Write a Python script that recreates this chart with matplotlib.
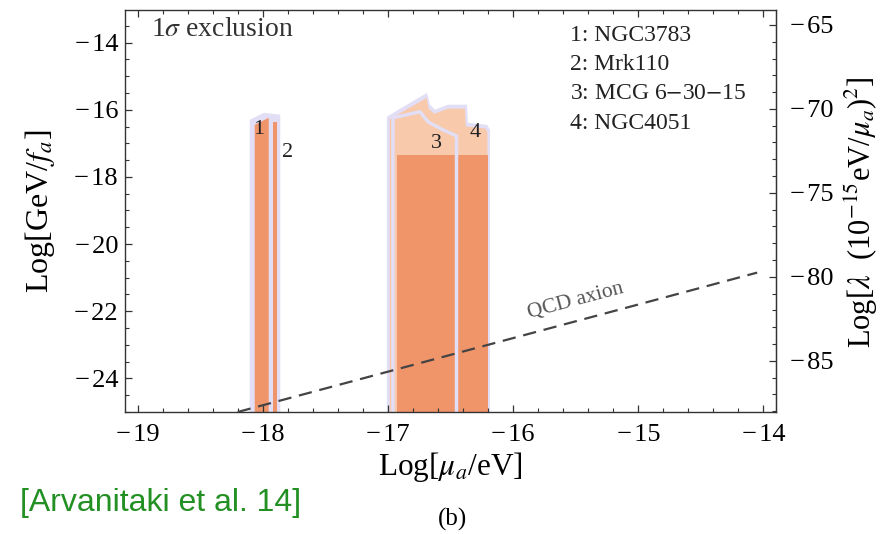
import matplotlib.pyplot as plt
from matplotlib.ticker import MultipleLocator, FixedLocator, FuncFormatter

plt.rcParams['font.family'] = ['Liberation Serif', 'DejaVu Serif']
plt.rcParams['mathtext.fontset'] = 'stix'

lav = '#e2def5'
peach = '#f8c9ab'
orange = '#f0946a'

# NGC3783 (1) and Mrk110 (2)
bar12_outer_x = [-18.104, -18.104, -17.99, -17.86, -17.86]
bar12_outer_y = [-25, -16.30, -16.09, -16.15, -25]
bar1_x = [-18.064, -18.064, -17.952, -17.952]
bar1_y = [-25, -16.45, -16.24, -25]
bar2_x = [-17.92, -17.92, -17.888, -17.888]
bar2_y = [-25, -16.36, -16.36, -25]

# MCG 6-30-15 (3) and NGC4051 (4)
grp_outer_x = [-17.008, -17.008, -16.944, -16.688, -16.664, -16.624, -16.52, -16.368, -16.36, -16.208, -16.184, -16.184]
grp_outer_y = [-25, -16.21, -16.06, -15.50, -15.85, -16.0, -15.85, -15.85, -16.39, -16.45, -16.6, -25]
peach_x = [-16.985, -16.985, -16.93, -16.69, -16.675, -16.63, -16.52, -16.385, -16.378, -16.22, -16.205, -16.205]
peach_y = [-25, -16.28, -16.16, -15.65, -15.97, -16.12, -15.97, -15.97, -16.5, -16.56, -16.68, -25]
r3_x = [-16.96, -16.96, -16.744, -16.68, -16.56, -16.452, -16.452]
r3_y = [-25, -16.24, -16.06, -16.36, -16.60, -16.78, -25]
core_x = [-16.93, -16.93, -16.2, -16.2]
core_y = [-25, -17.34, -17.34, -25]

qcd_x = [-18.2, -14.05]
qcd_y = [-25.0, -20.85]

sources = ['1: NGC3783', '2: Mrk110', '3: MCG 6$-$30$-$15', '4: NGC4051']
source_y = [-13.8, -14.64, -15.52, -16.42]
num_labels = ['1', '2', '3', '4']
num_x = [-18.03, -17.80, -16.61, -16.30]
num_y = [-16.6, -17.28, -17.01, -16.69]
right_ticks = [-85, -80, -75, -70, -65]


def fmt(v, pos):
    v = int(round(v))
    return ('\u2212\u200a%d' % -v) if v < 0 else '%d' % v


fig = plt.figure(figsize=(8.95, 5.34), dpi=100)
ax = fig.add_axes([0.1397, 0.2285, 0.867 - 0.1397, 0.9813 - 0.2285])

ax.fill(bar12_outer_x, bar12_outer_y, color=lav, lw=0)
ax.fill(bar1_x, bar1_y, color=orange, lw=0)
ax.fill(bar2_x, bar2_y, color=orange, lw=0)

ax.fill(grp_outer_x, grp_outer_y, color=lav, lw=0)
ax.fill(peach_x, peach_y, color=peach, lw=0)
ax.fill(core_x, core_y, color=orange, lw=0)
ax.plot(r3_x, r3_y, color=lav, lw=2.5, solid_joinstyle='round')

ax.plot(qcd_x, qcd_y, color='#444444', lw=1.6, dashes=(6, 3.5))
ax.text(-15.5, -21.69, 'QCD axion', rotation=15, ha='center', va='center',
        fontsize=15.5, color='#555555')

for t, x, y in zip(num_labels, num_x, num_y):
    ax.text(x, y, t, ha='center', va='center', fontsize=16, color='#222222')
for t, y in zip(sources, source_y):
    ax.text(-15.544, y, t, ha='left', va='center', fontsize=17, color='#222222')
ax.text(-18.89, -13.62, r'1$\sigma$ exclusion', ha='left', va='center', fontsize=20, color='#333333')

ax.set_xlim(-19.1, -13.9)
ax.set_ylim(-25.0, -13.03)
ax.xaxis.set_major_locator(MultipleLocator(1))
ax.xaxis.set_minor_locator(MultipleLocator(0.2))
ax.yaxis.set_major_locator(MultipleLocator(2))
ax.yaxis.set_minor_locator(MultipleLocator(0.5))
ax.xaxis.set_major_formatter(FuncFormatter(fmt))
ax.yaxis.set_major_formatter(FuncFormatter(fmt))
ax.tick_params(which='both', direction='in', top=True, right=False, colors='#333333', labelcolor='black')
ax.tick_params(which='major', length=5, width=0.9, labelsize=19)
ax.tick_params(which='minor', length=3, width=0.8)
ax.tick_params(axis='x', which='major', pad=9)
ax.tick_params(axis='y', which='major', pad=5)
for s in ax.spines.values():
    s.set_color('#333333')
    s.set_linewidth(1.0)

sec = ax.secondary_yaxis('right', functions=(lambda y: 2 * y - 38.05, lambda r: (r + 38.05) / 2))
sec.yaxis.set_major_locator(FixedLocator(right_ticks))
sec.yaxis.set_minor_locator(FixedLocator(list(range(-88, -63))))
sec.yaxis.set_major_formatter(FuncFormatter(fmt))
sec.tick_params(which='both', direction='in', colors='#333333', labelcolor='black')
sec.tick_params(which='major', length=5, width=0.9, labelsize=19, pad=10)
sec.tick_params(which='minor', length=3, width=0.8)
sec.spines['right'].set_color('#333333')
ax.text(1.132, 0.4975, r'Log[$\lambda$  (10$^{-15}$eV/$\mu_a$)$^2$]', transform=ax.transAxes,
        rotation=90, ha='center', va='center', fontsize=22)

ax.set_xlabel(r'Log[$\mu_a$/eV]', fontsize=22.5)
ax.xaxis.set_label_coords(0.5, -0.095)
ax.set_ylabel(r'Log[GeV/$f_a$]', fontsize=23)
ax.yaxis.set_label_coords(-0.105, 0.5)

fig.text(20 / 895, 1 - 503 / 534, '[Arvanitaki et al. 14]', family='Liberation Sans',
         fontsize=23, color='#239023', ha='left', va='center')
fig.text(453 / 895, 1 - 519 / 534, '(b)', fontsize=18, ha='center', va='center')

fig.savefig('out.png', dpi=100)
